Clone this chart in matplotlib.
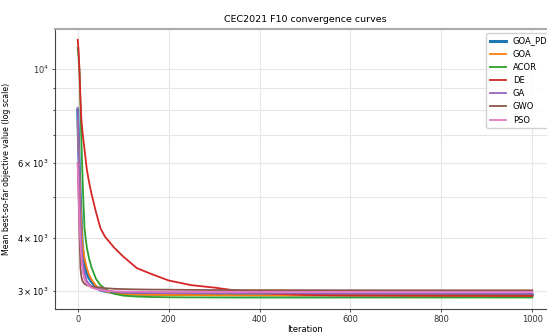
import numpy as np
import matplotlib.pyplot as plt

# iteration checkpoints
iters = [0, 2, 4, 6, 8, 10, 12, 15, 20, 25, 30, 40, 50, 60, 80, 100,
         130, 160, 200, 250, 300, 350, 400, 500, 600, 800, 1000]

goa_pd = [8000, 6600, 5600, 4900, 4300, 3850, 3650, 3450, 3300, 3220, 3160, 3070, 3020, 3000,
          2975, 2960, 2955, 2952, 2950, 2948, 2946, 2945, 2944, 2943, 2942, 2941, 2940]
goa = [7500, 6500, 5500, 4800, 4300, 3900, 3750, 3580, 3400, 3280, 3200, 3090, 3030, 3000,
       2970, 2950, 2945, 2942, 2940, 2938, 2936, 2935, 2934, 2933, 2932, 2931, 2930]
acor = [11200, 10600, 9800, 8200, 6800, 5800, 5000, 4200, 3800, 3580, 3420, 3210, 3100, 3040,
        2960, 2930, 2915, 2908, 2904, 2902, 2901, 2900, 2900, 2900, 2900, 2900, 2900]
de = [11700, 11000, 9800, 8500, 7600, 7200, 6850, 6450, 5800, 5410, 5100, 4610, 4220, 4030,
      3800, 3620, 3400, 3300, 3180, 3100, 3060, 3010, 2970, 2940, 2932, 2927, 2925]
ga = [8100, 6500, 5200, 4400, 3900, 3600, 3450, 3300, 3170, 3120, 3080, 3050, 3030, 3010,
      2990, 2978, 2974, 2972, 2970, 2969, 2968, 2967, 2966, 2966, 2965, 2965, 2965]
gwo = [6000, 5000, 4000, 3400, 3250, 3180, 3150, 3120, 3100, 3090, 3080, 3070, 3060, 3050,
       3040, 3035, 3030, 3027, 3025, 3022, 3020, 3019, 3018, 3017, 3016, 3015, 3015]
pso = [6000, 5000, 4300, 3900, 3600, 3400, 3300, 3200, 3120, 3090, 3060, 3035, 3020, 3010,
       3000, 2995, 2993, 2992, 2991, 2991, 2990, 2990, 2990, 2990, 2990, 2990, 2990]

names = ['GOA_PD', 'GOA', 'ACOR', 'DE', 'GA', 'GWO', 'PSO']
series = [goa_pd, goa, acor, de, ga, gwo, pso]
colors = ['#1f77b4', '#ff7f0e', '#2ca02c', '#d62728', '#9467bd', '#8c564b', '#e377c2']

plt.rcParams['font.size'] = 6

fig = plt.figure(figsize=(5.47, 3.34), dpi=100)
ax = fig.add_axes([55 / 547, 25 / 334, 500 / 547, 280 / 334])

for name, vals, c in zip(names, series, colors):
    lw = 2.2 if name == 'GOA_PD' else 1.3
    ax.plot(iters, vals, color=c, lw=lw, label=name)

ax.set_yscale('log')
ax.set_xlim(-50, 1050)
ax.set_ylim(2725, 12400)
ax.set_xticks([0, 200, 400, 600, 800, 1000])
ax.grid(True, which='both', color='#e6e6e6', lw=0.8)
ax.set_axisbelow(True)

for s in ['left', 'bottom']:
    ax.spines[s].set_color('#444444')
    ax.spines[s].set_linewidth(0.8)
ax.spines['top'].set_color('#aaaaaa')
ax.spines['top'].set_linewidth(1.5)
ax.tick_params(colors='#333333', length=2.5, width=0.6, pad=2)
ax.tick_params(which='minor', length=1.5, width=0.5)

ax.set_title('CEC2021 F10 convergence curves', fontsize=6.8, pad=5)
ax.set_xlabel('Iteration', fontsize=6, labelpad=0.5)
ax.set_ylabel('Mean best-so-far objective value (log scale)', fontsize=5.7, labelpad=4)
ax.legend(loc='upper right', fontsize=6, framealpha=0.9, borderaxespad=0.5)

fig.savefig('out.png', dpi=100)
